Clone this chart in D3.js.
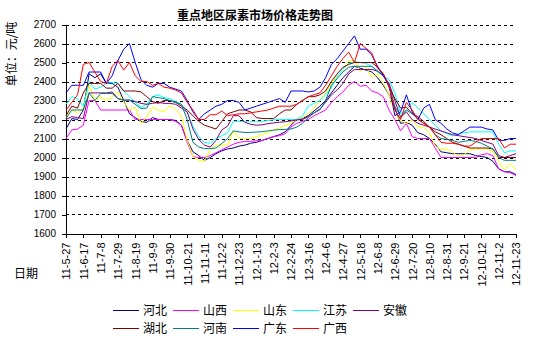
<!DOCTYPE html>
<html>
<head>
<meta charset="utf-8">
<script src="https://cdn.jsdelivr.net/npm/d3@7"></script>
<style>
  html, body { margin: 0; padding: 0; background: #fff; }
  svg { display: block; }
  text { fill: #000; }
</style>
</head>
<body>
<svg id="chart" width="545" height="340"></svg>
<script>
// Weekly survey dates (yy-m-d)
const weeks = [
  "11-5-27","11-6-3","11-6-10","11-6-17","11-6-24","11-7-1","11-7-8","11-7-15","11-7-22","11-7-29",
  "11-8-5","11-8-12","11-8-19","11-8-26","11-9-2","11-9-9","11-9-16","11-9-23","11-9-30","11-10-7",
  "11-10-14","11-10-21","11-10-28","11-11-4","11-11-11","11-11-18","11-11-25","11-12-2","11-12-9","11-12-16",
  "11-12-23","11-12-30","12-1-6","12-1-13","12-1-20","12-1-27","12-2-3","12-2-10","12-2-17","12-2-24",
  "12-3-2","12-3-9","12-3-16","12-3-23","12-3-30","12-4-6","12-4-13","12-4-20","12-4-27","12-5-4",
  "12-5-11","12-5-18","12-5-25","12-6-1","12-6-8","12-6-15","12-6-22","12-6-29","12-7-6","12-7-13",
  "12-7-20","12-7-27","12-8-3","12-8-10","12-8-17","12-8-24","12-8-31","12-9-7","12-9-14","12-9-21",
  "12-9-28","12-10-5","12-10-12","12-10-19","12-10-26","12-11-2","12-11-9","12-11-16","12-11-23"
];

// Labelled dates on the category axis
const tickLabels = [
  "11-5-27","11-6-17","11-7-8","11-7-29","11-8-19","11-9-9","11-9-30","11-10-21","11-11-11",
  "11-12-2","11-12-23","12-1-13","12-2-3","12-2-24","12-3-16","12-4-6","12-4-27","12-5-18",
  "12-6-8","12-6-29","12-7-20","12-8-10","12-8-31","12-9-21","12-10-12","12-11-2","12-11-23"
];

const yTicks = [1600,1700,1800,1900,2000,2100,2200,2300,2400,2500,2600,2700];

// Urea prices, yuan per tonne
const hebei = [
  2150,2205,2200,2250,2440,2420,2440,2390,2390,2370,
  2300,2230,2210,2190,2185,2210,2200,2200,2200,2195,
  2170,2090,2030,2010,1985,2000,2020,2035,2045,2050,
  2060,2065,2075,2080,2090,2100,2110,2120,2135,2170,
  2200,2205,2220,2245,2270,2300,2340,2380,2420,2450,
  2480,2470,2460,2450,2420,2380,2330,2260,2180,2185,
  2170,2130,2120,2100,2070,2030,2025,2020,2020,2020,
  2020,2010,2005,2000,1980,1940,1925,1925,1910
];
const shanxi = [
  2100,2145,2150,2170,2300,2300,2250,2250,2250,2250,
  2250,2250,2200,2200,2200,2200,2200,2200,2200,2190,
  2170,2080,2005,2000,2000,2010,2025,2040,2055,2070,
  2080,2085,2085,2088,2090,2100,2110,2115,2125,2160,
  2180,2190,2200,2220,2235,2250,2290,2320,2345,2380,
  2400,2375,2380,2350,2340,2320,2250,2200,2140,2180,
  2110,2100,2100,2100,2050,2000,2000,2000,2000,2000,
  2000,2000,2015,2020,2010,1940,1925,1920,1905
];
const shandong = [
  2215,2250,2235,2260,2380,2300,2320,2300,2320,2345,
  2293,2250,2265,2180,2215,2265,2250,2240,2275,2250,
  2220,2090,2005,1985,1980,2040,2065,2065,2065,2140,
  2100,2100,2100,2110,2120,2130,2145,2155,2170,2180,
  2200,2210,2230,2260,2300,2340,2390,2430,2460,2510,
  2510,2455,2475,2425,2440,2390,2330,2230,2195,2180,
  2200,2160,2160,2130,2060,2040,2045,2030,2005,2015,
  2040,2045,2045,2045,2030,1980,1935,1968,1935
];
const jiangsu = [
  2280,2320,2310,2270,2400,2360,2370,2390,2395,2390,
  2350,2320,2290,2265,2280,2320,2330,2315,2310,2295,
  2280,2240,2165,2110,2080,2075,2100,2115,2130,2190,
  2190,2188,2188,2188,2190,2195,2198,2200,2200,2200,
  2200,2220,2270,2285,2300,2330,2370,2425,2465,2495,
  2505,2500,2495,2480,2450,2430,2410,2340,2230,2250,
  2290,2260,2230,2200,2170,2140,2125,2115,2125,2130,
  2135,2135,2135,2135,2135,2070,2025,2035,2035
];
const anhui = [
  2200,2215,2210,2205,2340,2340,2340,2340,2345,2310,
  2302,2302,2295,2285,2280,2285,2290,2285,2285,2280,
  2260,2240,2150,2095,2065,2055,2090,2145,2165,2220,
  2220,2185,2175,2170,2172,2178,2182,2186,2188,2193,
  2198,2200,2215,2235,2255,2290,2330,2355,2390,2440,
  2463,2463,2463,2463,2455,2430,2390,2300,2210,2240,
  2200,2180,2170,2160,2150,2140,2130,2120,2115,2110,
  2105,2100,2090,2080,2070,2010,2000,2010,2020
];
const hubei = [
  2220,2270,2260,2340,2390,2390,2390,2365,2365,2390,
  2350,2350,2350,2345,2320,2295,2285,2300,2300,2290,
  2270,2250,2220,2190,2170,2160,2150,2190,2230,2240,
  2250,2250,2240,2210,2205,2205,2205,2230,2250,2250,
  2280,2300,2320,2320,2330,2350,2400,2440,2475,2490,
  2500,2500,2500,2500,2475,2440,2370,2310,2260,2265,
  2230,2215,2190,2160,2135,2120,2100,2080,2070,2060,
  2050,2050,2050,2050,2045,2000,2000,2000,2000
];
const henan = [
  2205,2250,2250,2250,2340,2300,2337,2337,2337,2310,
  2302,2302,2280,2258,2260,2320,2315,2310,2300,2290,
  2280,2200,2080,2055,2047,2047,2050,2074,2100,2140,
  2135,2132,2132,2134,2136,2140,2144,2147,2148,2150,
  2160,2180,2210,2235,2250,2300,2380,2415,2450,2475,
  2480,2480,2480,2480,2455,2435,2375,2270,2215,2250,
  2230,2205,2180,2160,2120,2100,2095,2090,2080,2085,
  2090,2085,2075,2060,2045,2000,1985,1985,1985
];
const guangdong = [
  2340,2380,2380,2380,2450,2450,2450,2390,2430,2510,
  2570,2600,2500,2410,2380,2370,2390,2390,2370,2360,
  2350,2300,2240,2200,2230,2250,2270,2280,2300,2300,
  2290,2250,2260,2270,2280,2290,2300,2310,2290,2350,
  2350,2350,2345,2350,2370,2420,2490,2520,2560,2600,
  2640,2570,2570,2540,2480,2430,2380,2220,2240,2330,
  2240,2200,2260,2280,2200,2180,2150,2130,2120,2140,
  2160,2160,2160,2150,2145,2090,2090,2100,2100
];
const guangxi = [
  2250,2290,2330,2490,2500,2450,2400,2390,2480,2510,
  2460,2500,2430,2400,2400,2380,2390,2370,2365,2355,
  2340,2290,2250,2200,2200,2225,2225,2245,2220,2225,
  2230,2230,2235,2240,2245,2250,2260,2270,2270,2270,
  2280,2300,2320,2330,2340,2380,2430,2480,2520,2555,
  2500,2600,2575,2550,2470,2440,2380,2250,2200,2290,
  2250,2200,2180,2160,2120,2080,2075,2075,2070,2060,
  2060,2080,2100,2100,2100,2100,2050,2070,2070
];

const seriesNames = ["河北","山西","山东","江苏","安徽","湖北","河南","广东","广西"];
const seriesColors = ["#000080","#FF00FF","#FFFF00","#00FFFF","#800080","#800000","#008080","#0000FF","#FF0000"];
const seriesValues = [hebei, shanxi, shandong, jiangsu, anhui, hubei, henan, guangdong, guangxi];

const svg = d3.select("#chart");
const plot = { left: 66, right: 516, top: 24.5, bottom: 233.5 };

const x = d3.scalePoint().domain(weeks).range([plot.left, plot.right]);
const y = d3.scaleLinear().domain([1600, 2700]).range([plot.bottom, plot.top]);

// Title
svg.append("text")
  .attr("x", 255).attr("y", 20)
  .attr("text-anchor", "middle")
  .style("font-family", "'Noto Sans CJK SC', sans-serif")
  .style("font-size", "12px").style("font-weight", "bold")
  .text("重点地区尿素市场价格走势图");

// Horizontal dashed gridlines
svg.append("g")
  .selectAll("line")
  .data(yTicks.filter(v => v > 1600))
  .join("line")
  .attr("x1", plot.left).attr("x2", plot.right)
  .attr("y1", d => Math.round(y(d)) + 0.5).attr("y2", d => Math.round(y(d)) + 0.5)
  .attr("stroke", "#000").attr("stroke-width", 1)
  .attr("stroke-dasharray", "3,3")
  .attr("shape-rendering", "crispEdges");

// Y axis
const yAxis = svg.append("g")
  .attr("transform", `translate(${plot.left},0)`)
  .call(d3.axisLeft(y).tickValues(yTicks).tickFormat(d3.format("d")).tickSize(4).tickPadding(6));
yAxis.selectAll("path, line").attr("stroke", "#000").attr("shape-rendering", "crispEdges");
yAxis.selectAll("text")
  .style("font-family", "'Liberation Sans', Arial, sans-serif")
  .style("font-size", "10px");

// X axis
const xAxis = svg.append("g")
  .attr("transform", `translate(0,${plot.bottom})`)
  .call(d3.axisBottom(x).tickValues(tickLabels).tickSize(4).tickSizeOuter(0));
xAxis.select(".domain").attr("stroke", "#000").attr("shape-rendering", "crispEdges");
xAxis.selectAll("line").attr("stroke", "#000").attr("shape-rendering", "crispEdges");
xAxis.selectAll("text")
  .attr("transform", "rotate(-90)")
  .attr("x", -9).attr("y", 0).attr("dy", "0.35em")
  .style("text-anchor", "end")
  .style("font-family", "'Liberation Sans', Arial, sans-serif")
  .style("font-size", "11px");

// Axis titles
svg.append("text")
  .attr("transform", "translate(16,54) rotate(-90)")
  .attr("text-anchor", "middle")
  .style("font-family", "'Noto Sans CJK SC', sans-serif")
  .style("font-size", "12px")
  .text("单位：元/吨");

svg.append("text")
  .attr("x", 14).attr("y", 278)
  .style("font-family", "'Noto Sans CJK SC', sans-serif")
  .style("font-size", "12px")
  .text("日期");

// Price lines
const line = d3.line()
  .x((d, i) => x(weeks[i]))
  .y(d => y(d));

svg.append("g")
  .selectAll("path")
  .data(seriesValues)
  .join("path")
  .attr("d", d => line(d))
  .attr("fill", "none")
  .attr("stroke", (d, i) => seriesColors[i])
  .attr("stroke-width", 1);

// Legend: two rows, five columns
const legend = svg.append("g");
seriesNames.forEach((name, i) => {
  const col = i % 5, row = Math.floor(i / 5);
  const lx = 113 + col * 60, ly = 310 + row * 18;
  legend.append("line")
    .attr("x1", lx).attr("x2", lx + 26)
    .attr("y1", ly + 0.5).attr("y2", ly + 0.5)
    .attr("stroke", seriesColors[i]).attr("stroke-width", 1)
    .attr("shape-rendering", "crispEdges");
  legend.append("text")
    .attr("x", lx + 30).attr("y", ly + 4.5)
    .style("font-family", "'Noto Sans CJK SC', sans-serif")
    .style("font-size", "12px")
    .text(name);
});
</script>
</body>
</html>
